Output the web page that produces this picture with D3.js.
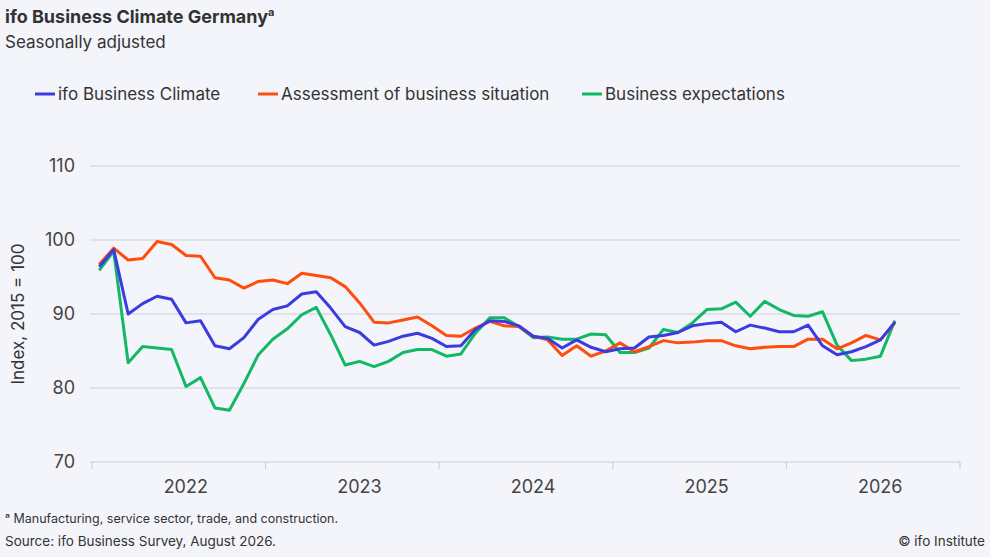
<!DOCTYPE html>
<html><head><meta charset="utf-8">
<script src="https://cdn.jsdelivr.net/npm/d3@7"></script>
<style>
body{margin:0;background:#f3f5fa;font-family:Inter,"Noto Sans",sans-serif;}
svg text{fill:#333;}
</style></head>
<body><div id="plot"></div>
<script>
// monthly values, Jan 2022 .. Aug 2026
var climate = [96.4,98.7,90.0,91.4,92.4,92.0,88.8,89.1,85.7,85.3,86.8,89.3,
  90.6,91.1,92.7,93.0,90.8,88.3,87.5,85.8,86.3,87.0,87.4,86.7,
  85.6,85.7,87.9,89.1,89.0,88.4,87.0,86.7,85.4,86.5,85.5,84.9,
  85.3,85.4,86.9,87.1,87.5,88.4,88.7,88.9,87.6,88.5,88.1,87.6,
  87.6,88.5,85.7,84.5,84.9,85.6,86.5,88.9];
var situation = [96.7,98.9,97.3,97.5,99.8,99.4,97.9,97.8,94.9,94.6,93.5,94.4,
  94.6,94.1,95.5,95.2,94.9,93.7,91.5,88.9,88.8,89.2,89.6,88.4,
  87.1,87.0,88.1,89.0,88.4,88.3,87.0,86.5,84.4,85.7,84.3,85.0,
  86.1,84.9,85.6,86.4,86.1,86.2,86.4,86.4,85.7,85.3,85.5,85.6,
  85.6,86.6,86.6,85.3,86.1,87.1,86.5,88.8];
var expectations = [95.9,98.5,83.4,85.6,85.4,85.2,80.2,81.4,77.3,77.0,80.6,84.5,
  86.6,88.0,89.9,90.9,87.2,83.1,83.6,82.9,83.6,84.8,85.2,85.2,
  84.3,84.6,87.4,89.5,89.5,88.3,86.8,86.9,86.6,86.6,87.3,87.2,
  84.8,84.8,85.4,87.9,87.5,88.8,90.6,90.7,91.6,89.7,91.7,90.6,
  89.8,89.7,90.3,85.8,83.7,83.9,84.3,89.1];
var seriesNames = ["ifo Business Climate","Assessment of business situation","Business expectations"];
var seriesColors = ["#3b3be0","#ff4d0d","#12b866"];
var yTicks = [70,80,90,100,110];
var years = [2022,2023,2024,2025,2026];

var width = 990, height = 557;
var svg = d3.select("#plot").append("svg").attr("width",width).attr("height",height);

var x = d3.scaleLinear().domain([0,60]).range([92,960]);
var y = d3.scaleLinear().domain([70,110]).range([462,166]);

// title
var t = svg.append("text").attr("x",5).attr("y",23).style("font-size","18px").style("font-weight","bold").text("ifo Business Climate Germany");
t.append("tspan").attr("dy",-7).style("font-size","11px").text("a");
svg.append("text").attr("x",5).attr("y",48).style("font-size","17px").text("Seasonally adjusted");

// legend
var lx = [35,258,582];
seriesNames.forEach(function(n,i){
  svg.append("line").attr("x1",lx[i]).attr("x2",lx[i]+20).attr("y1",94).attr("y2",94)
    .attr("stroke",seriesColors[i]).attr("stroke-width",3);
  svg.append("text").attr("x",lx[i]+23).attr("y",100).style("font-size","17px").text(n);
});

// grid + y labels
svg.selectAll(".grid").data(yTicks.slice(1)).enter().append("line")
  .attr("x1",90).attr("x2",960).attr("y1",d=>y(d)).attr("y2",d=>y(d))
  .attr("stroke","#cdd0da").attr("stroke-width",1.2);
svg.selectAll(".yl").data(yTicks).enter().append("text")
  .attr("x",75).attr("y",d=>y(d)+6).attr("text-anchor","end")
  .style("font-size","18px").style("fill","#444").text(d=>d);
svg.append("text").attr("transform","translate(24,314) rotate(-90)").attr("text-anchor","middle")
  .style("font-size","17px").text("Index, 2015 = 100");

// x axis
svg.append("line").attr("x1",90).attr("x2",960).attr("y1",462).attr("y2",462).attr("stroke","#c8cbd5").attr("stroke-width",1.2);
svg.selectAll(".xt").data(d3.range(0,61,12)).enter().append("line")
  .attr("x1",d=>x(d)).attr("x2",d=>x(d)).attr("y1",462).attr("y2",469).attr("stroke","#c8cbd5");
svg.selectAll(".xl").data(years).enter().append("text")
  .attr("x",(d,i)=>x(i*12+6)+7).attr("y",493).attr("text-anchor","middle")
  .style("font-size","18px").style("fill","#444").text(d=>d);

// lines
var line = d3.line().x((d,i)=>x(i+0.5)).y(d=>y(d));
[expectations,situation,climate].forEach(function(s){
  var i = s===climate?0:s===situation?1:2;
  svg.append("path").datum(s).attr("d",line).attr("fill","none")
    .attr("stroke",seriesColors[i]).attr("stroke-width",3).attr("stroke-linejoin","round");
});

// footer
svg.append("text").attr("x",5).attr("y",523).style("font-size","12.5px").text("ᵃ Manufacturing, service sector, trade, and construction.");
svg.append("text").attr("x",5).attr("y",546).style("font-size","13.5px").text("Source: ifo Business Survey, August 2026.");
svg.append("text").attr("x",985).attr("y",546).attr("text-anchor","end").style("font-size","13.5px").text("© ifo Institute");
</script></body></html>
